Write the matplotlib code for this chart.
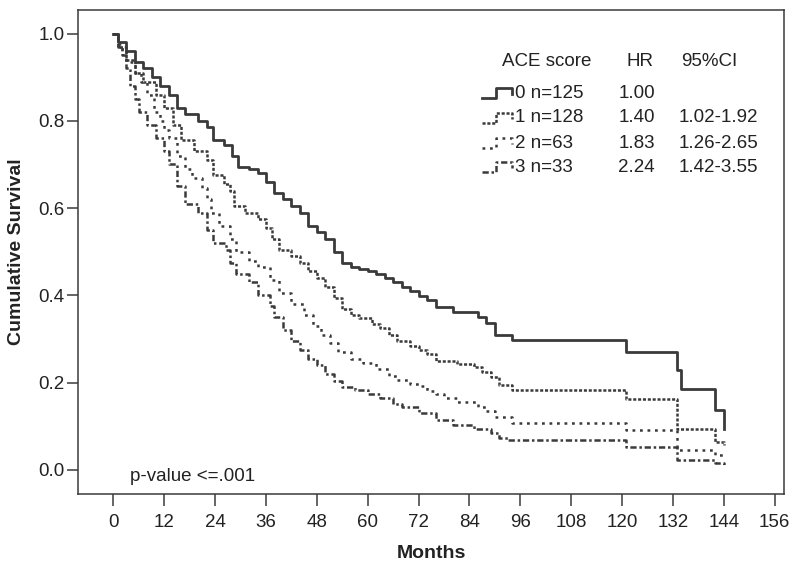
import matplotlib
matplotlib.use("Agg")
import matplotlib.pyplot as plt
import numpy as np

plt.rcParams['font.family'] = ['Liberation Sans', 'DejaVu Sans']
plt.rcParams['lines.scale_dashes'] = False

# Kaplan-Meier steps (months, cumulative survival)
g0_t = [0, 1, 3, 5, 7, 9, 11, 13, 15, 17, 20, 22, 23.5, 26, 28, 29.5, 32, 34, 36, 38,
        40, 42, 44, 46, 48, 50, 52, 54, 56, 58, 60, 62, 64, 66, 68, 70, 72, 74, 76, 80,
        86, 88, 90, 94, 121, 133, 134, 142, 144]
g0_s = [1.0, 0.98, 0.96, 0.935, 0.92, 0.90, 0.88, 0.86, 0.83, 0.815, 0.80, 0.785, 0.755, 0.745, 0.72, 0.695, 0.69, 0.68, 0.66, 0.635,
        0.62, 0.605, 0.59, 0.56, 0.545, 0.53, 0.50, 0.475, 0.465, 0.46, 0.455, 0.45, 0.44, 0.43, 0.42, 0.41, 0.398, 0.39, 0.374, 0.362,
        0.35, 0.337, 0.31, 0.298, 0.27, 0.23, 0.185, 0.137, 0.094]

g1_t = [0, 1, 3, 5, 7, 10, 12, 14, 16, 19, 22, 23.5, 26, 27.5, 28.5, 31, 34, 36, 37.5, 39,
        42, 44, 46, 48, 50, 52, 54, 56, 58, 61, 63, 65, 67, 70, 72, 74, 76, 81, 85, 87,
        89, 91, 94, 121, 133, 142, 144]
g1_s = [1.0, 0.97, 0.94, 0.91, 0.89, 0.86, 0.83, 0.79, 0.755, 0.73, 0.71, 0.675, 0.655, 0.64, 0.605, 0.59, 0.575, 0.555, 0.53, 0.505,
        0.49, 0.475, 0.455, 0.44, 0.42, 0.395, 0.37, 0.355, 0.348, 0.335, 0.325, 0.31, 0.295, 0.285, 0.275, 0.265, 0.25, 0.244, 0.235, 0.225,
        0.212, 0.195, 0.183, 0.162, 0.093, 0.065, 0.058]

g2_t = [0, 1, 2, 3, 5, 6.5, 8, 9.5, 11, 12, 13, 15, 17, 18.5, 21, 22, 23, 25, 27.5, 29,
        32, 34, 37, 39, 42, 45, 47, 49, 51, 53, 56, 59, 62, 65, 67, 70, 72, 74, 76, 78,
        81, 86, 88, 90, 94, 121, 133, 142, 144]
g2_s = [1.0, 0.975, 0.96, 0.935, 0.91, 0.89, 0.86, 0.82, 0.80, 0.78, 0.76, 0.72, 0.69, 0.67, 0.645, 0.62, 0.59, 0.56, 0.53, 0.50,
        0.48, 0.465, 0.435, 0.405, 0.38, 0.355, 0.33, 0.31, 0.29, 0.27, 0.255, 0.245, 0.232, 0.215, 0.206, 0.198, 0.193, 0.182, 0.175, 0.165,
        0.156, 0.145, 0.135, 0.122, 0.108, 0.092, 0.046, 0.035, 0.03]

g3_t = [0, 1, 2, 3, 4, 5, 6, 8, 10, 12, 13, 15, 17, 20, 22, 23.5, 26.5, 27.5, 29, 32,
        34, 37, 38, 40, 42, 44, 46, 48, 50, 52, 54, 57, 60, 63, 66, 68, 72, 76, 80, 85,
        89, 91, 93, 121, 133, 142, 144]
g3_s = [1.0, 0.97, 0.95, 0.92, 0.88, 0.85, 0.82, 0.79, 0.76, 0.73, 0.70, 0.65, 0.61, 0.59, 0.55, 0.52, 0.505, 0.475, 0.45, 0.43,
        0.40, 0.375, 0.35, 0.32, 0.295, 0.275, 0.255, 0.24, 0.22, 0.205, 0.19, 0.183, 0.175, 0.165, 0.152, 0.145, 0.13, 0.115, 0.103, 0.095,
        0.085, 0.073, 0.068, 0.053, 0.023, 0.015, 0.01]

groups = ["0 n=125", "1 n=128", "2 n=63", "3 n=33"]
hr = ["1.00", "1.40", "1.83", "2.24"]
ci = ["", "1.02-1.92", "1.26-2.65", "1.42-3.55"]

col = "#3a3a3a"
styles = [dict(linestyle="-", lw=2.0),
          dict(linestyle=(0, (2.2, 1.3)), lw=1.8),
          dict(linestyle=(0, (2.0, 3.4)), lw=1.8),
          dict(linestyle=(0, (4.5, 2.0, 1.8, 2.0)), lw=1.8)]

fig = plt.figure(figsize=(8, 5.71), dpi=100)
ax = fig.add_axes([78/800, 1-494/571, (784-78)/800, (494-10)/571])

data = [(g0_t, g0_s), (g1_t, g1_s), (g2_t, g2_s), (g3_t, g3_s)]
for (t, s), st in zip(data, styles):
    ax.step(t, s, where="post", color=col, **st)

ax.set_xlim(-8.35, 158.2)
ax.set_ylim(-0.055, 1.054)
ax.set_xticks(np.arange(0, 157, 12))
ax.set_yticks(np.arange(0, 1.01, 0.2))
ax.set_yticklabels(["%.1f" % v for v in np.arange(0, 1.01, 0.2)])
ax.tick_params(axis="x", length=8.6, width=1.1, color=col, pad=6, labelsize=13.5, labelcolor="#222222")
ax.tick_params(axis="y", length=8, width=1.1, color=col, pad=1.5, labelsize=13.5, labelcolor="#222222")
for sp in ax.spines.values():
    sp.set_color(col)
    sp.set_linewidth(1.1)

ax.set_xlabel("Months", fontsize=14, fontweight="bold", labelpad=10, color="#222222")
ax.set_ylabel("Cumulative Survival", fontsize=14, fontweight="bold", labelpad=10, color="#222222")

ax.text(3.9, -0.014, "p-value <=.001", fontsize=13.5, ha="left", va="center", color="#222222")

# legend table, placed in pixel positions
def fx(px):
    return px / 800

def fy(py):
    return 1 - py / 571

fig.text(fx(502), fy(61.5), "ACE score", fontsize=13.5, ha="left", va="center", color="#222222")
fig.text(fx(654), fy(61.5), "HR", fontsize=13.5, ha="right", va="center", color="#222222")
fig.text(fx(681), fy(61.5), "95%CI", fontsize=13.5, ha="left", va="center", color="#222222")
rows_y = [93, 118, 143, 167]
for i, yy in enumerate(rows_y):
    xs = [fx(482), fx(496), fx(496), fx(512), fx(512)]
    ys = [fy(yy + 5), fy(yy + 5), fy(yy - 5), fy(yy - 5), fy(yy + 1)]
    fig.add_artist(plt.Line2D(xs, ys, transform=fig.transFigure, color=col, **styles[i]))
    fig.text(fx(515), fy(yy), groups[i], fontsize=13.5, ha="left", va="center", color="#222222")
    fig.text(fx(655), fy(yy), hr[i], fontsize=13.5, ha="right", va="center", color="#222222")
    if ci[i]:
        fig.text(fx(679), fy(yy), ci[i], fontsize=13.5, ha="left", va="center", color="#222222")

fig.savefig("out.png", dpi=100)
